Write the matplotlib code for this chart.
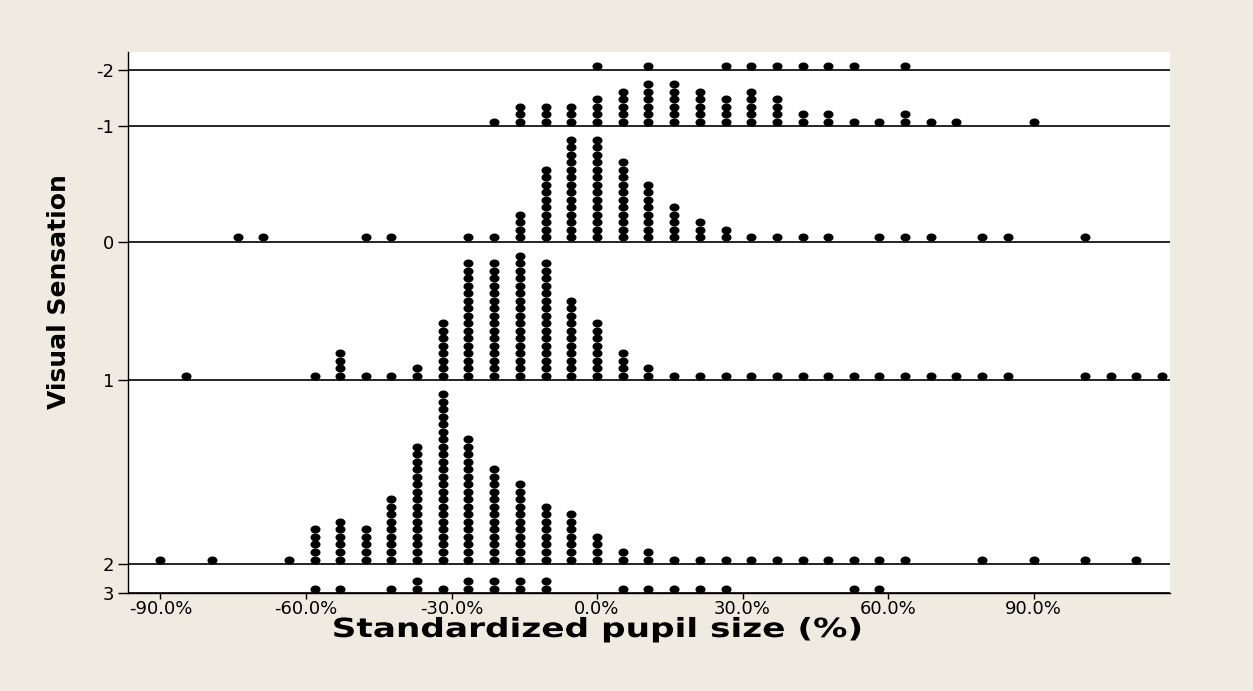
import numpy as np
import matplotlib
matplotlib.use("Agg")
import matplotlib.pyplot as plt
from matplotlib.patheffects import AbstractPathEffect
from matplotlib.transforms import Affine2D

# Visual sensation levels, top to bottom
levels = [-2, -1, 0, 1, 2, 3]

# Binned standardized pupil size (%) and number of stacked dots per bin
pupil_m2 = [0.0, 10.6, 26.5, 31.8, 37.1, 42.4, 47.6, 52.9, 63.5]
count_m2 = [1, 1, 1, 1, 1, 1, 1, 1, 1]

pupil_m1 = [-21.2, -15.9, -10.6, -5.3, 0.0, 5.3, 10.6, 15.9, 21.2, 26.5, 31.8,
            37.1, 42.4, 47.6, 52.9, 58.2, 63.5, 68.8, 74.1, 90.0]
count_m1 = [1, 3, 3, 3, 4, 5, 6, 6, 5, 4, 5, 4, 2, 2, 1, 1, 2, 1, 1, 1]

pupil_0 = [-74.1, -68.8, -47.6, -42.4, -26.5, -21.2, -15.9, -10.6, -5.3, 0.0,
           5.3, 10.6, 15.9, 21.2, 26.5, 31.8, 37.1, 42.4, 47.6, 58.2, 63.5,
           68.8, 79.4, 84.7, 100.6]
count_0 = [1, 1, 1, 1, 1, 1, 4, 10, 14, 14, 11, 8, 5, 3, 2, 1, 1, 1, 1, 1, 1,
           1, 1, 1, 1]

pupil_1 = [-84.7, -58.2, -52.9, -47.6, -42.4, -37.1, -31.8, -26.5, -21.2,
           -15.9, -10.6, -5.3, 0.0, 5.3, 10.6, 15.9, 21.2, 26.5, 31.8, 37.1,
           42.4, 47.6, 52.9, 58.2, 63.5, 68.8, 74.1, 79.4, 84.7, 100.6, 105.9,
           111.2, 116.5]
count_1 = [1, 1, 4, 1, 1, 2, 8, 16, 16, 17, 16, 11, 8, 4, 2, 1, 1, 1, 1, 1,
           1, 1, 1, 1, 1, 1, 1, 1, 1, 1, 1, 1, 1]

pupil_2 = [-90.0, -79.4, -63.5, -58.2, -52.9, -47.6, -42.4, -37.1, -31.8,
           -26.5, -21.2, -15.9, -10.6, -5.3, 0.0, 5.3, 10.6, 15.9, 21.2, 26.5,
           31.8, 37.1, 42.4, 47.6, 52.9, 58.2, 63.5, 79.4, 90.0, 100.6, 111.2]
count_2 = [1, 1, 1, 5, 6, 5, 9, 16, 23, 17, 13, 11, 8, 7, 4, 2, 2, 1, 1, 1,
           1, 1, 1, 1, 1, 1, 1, 1, 1, 1, 1]

pupil_3 = [-58.2, -52.9, -42.4, -37.1, -31.8, -26.5, -21.2, -15.9, -10.6,
           5.3, 10.6, 15.9, 21.2, 26.5, 52.9, 58.2]
count_3 = [1, 1, 1, 2, 1, 2, 2, 2, 2, 1, 1, 1, 1, 1, 1, 1]

groups = [(pupil_m2, count_m2), (pupil_m1, count_m1), (pupil_0, count_0),
          (pupil_1, count_1), (pupil_2, count_2), (pupil_3, count_3)]

x_ticks = [-90, -60, -30, 0, 30, 60, 90]


class HStretch(AbstractPathEffect):
    """Draw a text line widened horizontally about its own centre."""

    def __init__(self, sx):
        super().__init__()
        self.sx = sx

    def draw_path(self, renderer, gc, tpath, affine, rgbFace=None):
        pts = affine.transform(tpath.vertices)
        if len(pts):
            cx = 0.5 * (pts[:, 0].min() + pts[:, 0].max())
            affine = affine + Affine2D().translate(-cx, 0).scale(self.sx, 1).translate(cx, 0)
        renderer.draw_path(gc, tpath, affine, rgbFace)


# Layout: each group gets a band tall enough for its highest stack
PAD = 1.4
BOTTOM_BAND = 3.9
heights = [max(c) + PAD for _, c in groups]
heights[-1] = BOTTOM_BAND
baselines = []
y = 0.0
for h in reversed(heights):
    baselines.append(y)
    y += h
baselines = baselines[::-1]
y_top = baselines[0] + heights[0]

BEIGE = "#EFEBE1"
W, H = 1253, 691
L, R, B, T = 128, 1170, 593, 52
fig = plt.figure(figsize=(W / 100, H / 100), dpi=100, facecolor=BEIGE)
ax = fig.add_axes([L / W, 1 - B / H, (R - L) / W, (B - T) / H])
ax.set_facecolor("white")

# Slightly wide elliptical dot, like the classic dotplot symbol
t = np.linspace(0, 2 * np.pi, 60)
dot = np.column_stack([1.25 * np.cos(t), np.sin(t)])

for base, (xs, cs) in zip(baselines, groups):
    ax.axhline(base, color="black", lw=1.2, zorder=1)
    px, py = [], []
    for xv, cv in zip(xs, cs):
        for j in range(cv):
            px.append(xv)
            py.append(base + 0.55 + j)
    ax.scatter(px, py, marker=dot, s=52, color="black", linewidths=0, zorder=3)

# 0% sits at x=597 px with 4.85 px per percentage point
ax.set_xlim((L - 597) / 4.85, (R - 597) / 4.85)
ax.set_ylim(0, y_top)
ax.set_xticks(x_ticks)
ax.set_xticklabels([f"{v:.1f}%" for v in x_ticks])
ax.set_yticks(baselines)
ax.set_yticklabels([str(v) for v in levels])
ax.tick_params(axis="x", direction="out", length=4, width=1, labelsize=13,
               colors="black", pad=1)
ax.tick_params(axis="y", direction="out", length=7, width=1, labelsize=13,
               colors="black", pad=3)
ax.spines["top"].set_visible(False)
ax.spines["right"].set_visible(False)
for s in ("left", "bottom"):
    ax.spines[s].set_color("black")
    ax.spines[s].set_linewidth(1)

xl = ax.set_xlabel("Standardized pupil size (%)", fontsize=19, fontweight="bold")
xl.set_path_effects([HStretch(1.3)])
ax.xaxis.set_label_coords((597 - L) / (R - L), -(617 - B) / (B - T))
ax.set_ylabel("Visual Sensation", fontsize=18, fontweight="bold")
ax.yaxis.set_label_coords(-(L - 71) / (R - L), (B - 292) / (B - T))

fig.savefig("out.png", dpi=100, facecolor=BEIGE)
